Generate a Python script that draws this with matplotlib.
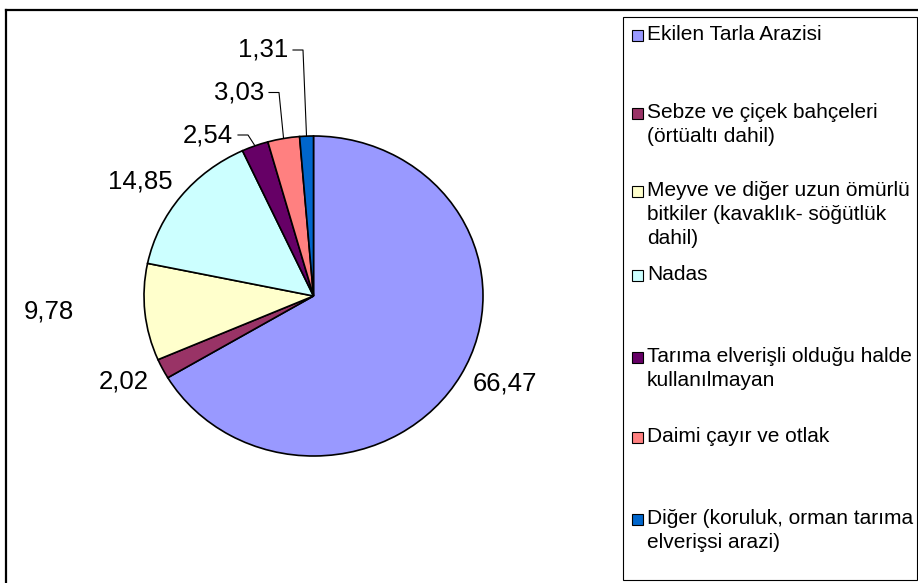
import math
import matplotlib
matplotlib.use("Agg")
import matplotlib.pyplot as plt
from matplotlib.patches import Rectangle
from matplotlib.lines import Line2D

# ---- data ----
categories = [
    "Ekilen Tarla Arazisi",
    "Sebze ve çiçek bahçeleri\n(örtüaltı dahil)",
    "Meyve ve diğer uzun ömürlü\nbitkiler (kavaklık- söğütlük\ndahil)",
    "Nadas",
    "Tarıma elverişli olduğu halde\nkullanılmayan",
    "Daimi çayır ve otlak",
    "Diğer (koruluk, orman tarıma\nelverişsi arazi)",
]
values = [66.47, 2.02, 9.78, 14.85, 2.54, 3.03, 1.31]
value_labels = ["66,47", "2,02", "9,78", "14,85", "2,54", "3,03", "1,31"]
colors = ["#9999FF", "#993366", "#FFFFCC", "#CCFFFF", "#660066", "#FF8080", "#0066CC"]

# ---- layout (pixels) ----
W, H = 918, 583
cx, cy, rx, ry = 313.5, 296.0, 169.5, 160.0
# label anchor (x, y, ha, has_leader)
label_pos = [
    (505, 383, "center", False),
    (124, 382, "center", False),
    (49, 311, "center", False),
    (140, 182, "center", False),
    (233, 135, "right", True),
    (264, 92.5, "right", True),
    (288, 50, "right", True),
]
legend_y = [35, 113, 191, 275, 357, 437, 519]
line_gap = 23.5

fig = plt.figure(figsize=(W / 100, H / 100), dpi=100)
fig.patch.set_facecolor("white")

# overlay axes in pixel coordinates
ov = fig.add_axes([0, 0, 1, 1], zorder=0)
ov.set_xlim(0, W)
ov.set_ylim(H, 0)
ov.axis("off")

# pie axes (elliptical)
pa = fig.add_axes([(cx - rx) / W, (H - cy - ry) / H, 2 * rx / W, 2 * ry / H], zorder=1)
wedges, _ = pa.pie(values, colors=colors, startangle=90, counterclock=False,
                   wedgeprops=dict(edgecolor="black", linewidth=1.2))
for w in wedges:
    w.set_clip_on(False)
pa.set_aspect("auto")
pa.set_xlim(-1, 1)
pa.set_ylim(-1, 1)
pa.axis("off")

# chart frame
ov.add_line(Line2D([6, W], [9.5, 9.5], color="black", lw=1.6))
ov.add_line(Line2D([6, 6], [9.5, H], color="black", lw=1.6))

# value labels and leaders
total = sum(values)
cum = 0.0
for v, lab, (lx, ly, ha, lead) in zip(values, value_labels, label_pos):
    mid = cum + v / 2
    cum += v
    ang = math.radians(90 - 360 * mid / total)
    ex = cx + rx * math.cos(ang)
    ey = cy - ry * math.sin(ang)
    ov.text(lx, ly, lab, ha=ha, va="center", fontsize=18.5,
            family="Liberation Sans", color="black")
    if lead:
        ov.plot([lx + 5, lx + 15, ex], [ly, ly, ey], color="black", lw=0.8)

# legend box
ov.add_patch(Rectangle((623, 17), 917 - 623, 580 - 17, facecolor="white",
                       edgecolor="black", lw=0.8))
for cat, col, y0 in zip(categories, colors, legend_y):
    ov.add_patch(Rectangle((631.5, y0 - 5.5), 11, 11, facecolor=col,
                           edgecolor="black", lw=0.8))
    for i, line in enumerate(cat.split("\n")):
        ov.text(647, y0 + i * line_gap, line, ha="left", va="center",
                fontsize=15, family="Liberation Sans", color="black")

fig.savefig("out.png", dpi=100)
